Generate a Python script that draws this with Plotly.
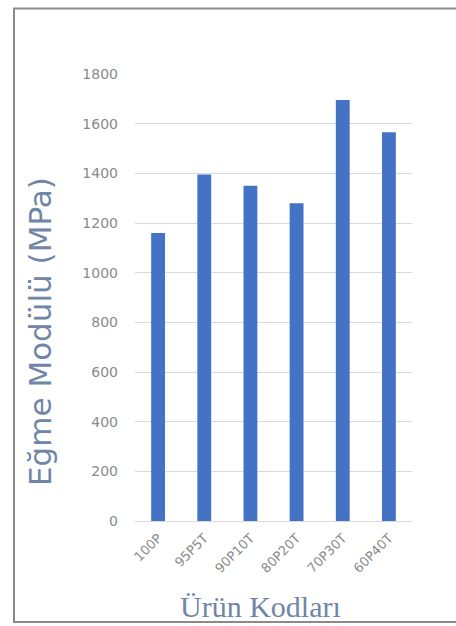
import plotly.graph_objects as go

categories = ["100P", "95P5T", "90P10T", "80P20T", "70P30T", "60P40T"]
modulus_values = [1160, 1395, 1350, 1280, 1695, 1565]
y_tick_values = [0, 200, 400, 600, 800, 1000, 1200, 1400, 1600, 1800]
y_title = "Eğme Modülü (MPa)"
x_title = "Ürün Kodları"

fig = go.Figure()
fig.add_trace(go.Bar(
    x=categories,
    y=modulus_values,
    marker=dict(color="#4472c4", line=dict(width=0)),
))

W, H = 456, 626
L, R, T, B = 135, 44, 74, 105
pw, ph = W - L - R, H - T - B

def px_x(x):
    return (x - L) / pw

def px_y(y):
    return (H - B - y) / ph

fig.update_layout(
    width=W, height=H,
    margin=dict(l=L, r=R, t=T, b=B),
    paper_bgcolor="white",
    plot_bgcolor="white",
    showlegend=False,
    bargap=0.7,
    font=dict(family="DejaVu Sans, sans-serif", color="#8a8a8a", size=14),
    xaxis=dict(
        type="category",
        tickangle=-45,
        tickfont=dict(family="DejaVu Sans", size=13, color="#8a8a8a"),
        showgrid=False,
        showline=False,
        ticks="",
        ticklabelstandoff=6,
    ),
    yaxis=dict(
        range=[0, 1800],
        tickvals=y_tick_values,
        tickfont=dict(family="DejaVu Sans", size=14, color="#8a8a8a"),
        showgrid=True,
        gridcolor="#d9d9d9",
        gridwidth=1,
        zeroline=True,
        zerolinecolor="#d9d9d9",
        zerolinewidth=1,
        showline=False,
        ticks="",
        ticklabelstandoff=16,
    ),
    shapes=[
        dict(type="rect", xref="paper", yref="paper",
             x0=px_x(14), x1=px_x(470), y0=px_y(622), y1=px_y(8.5),
             line=dict(color="#8a8a8a", width=2), fillcolor="rgba(0,0,0,0)", layer="below"),
    ],
    annotations=[
        dict(text=y_title, xref="paper", yref="paper",
             x=px_x(40), y=px_y(332), xanchor="center", yanchor="middle",
             textangle=-90, showarrow=False,
             font=dict(family="DejaVu Sans", size=31, color="#6f86a6")),
        dict(text=x_title, xref="paper", yref="paper",
             x=px_x(260), y=px_y(606), xanchor="center", yanchor="middle",
             showarrow=False,
             font=dict(family="Liberation Serif, Times New Roman, serif", size=30, color="#6f86a6")),
    ],
)

fig.write_html("out.html")
